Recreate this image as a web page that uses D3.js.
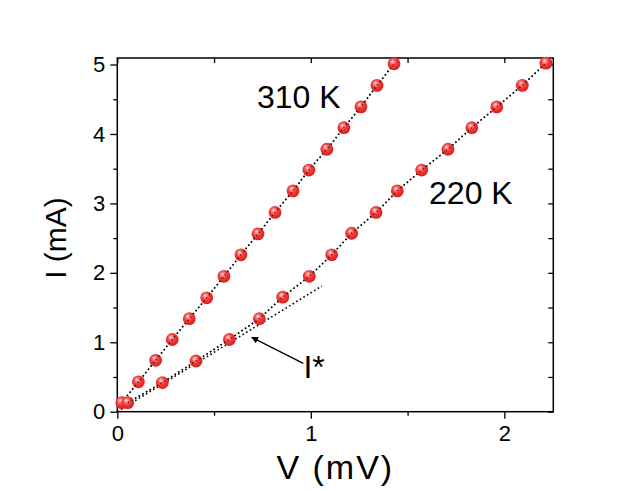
<!DOCTYPE html>
<html>
<head>
<meta charset="utf-8">
<script src="https://cdn.jsdelivr.net/npm/d3@7/dist/d3.min.js"></script>
<style>
  body { margin: 0; background: #fff; }
  svg { display: block; }
  text { font-family: "Liberation Sans", Arial, sans-serif; fill: #000; }
</style>
</head>
<body>
<div class="chart"></div>
<script>
// I-V data (V in mV, I in mA)
var v310 = [0.023, 0.109, 0.198, 0.284, 0.372, 0.462, 0.551, 0.639, 0.727, 0.815, 0.908, 0.990, 1.083, 1.171, 1.259, 1.342, 1.430];
var i310 = [0.13, 0.43, 0.74, 1.04, 1.34, 1.64, 1.95, 2.26, 2.56, 2.87, 3.18, 3.48, 3.78, 4.09, 4.39, 4.70, 5.01];
var v220 = [0.054, 0.233, 0.407, 0.579, 0.734, 0.855, 0.992, 1.108, 1.211, 1.337, 1.447, 1.573, 1.709, 1.832, 1.961, 2.093, 2.215];
var i220 = [0.13, 0.42, 0.73, 1.04, 1.34, 1.65, 1.95, 2.26, 2.57, 2.87, 3.18, 3.48, 3.78, 4.09, 4.39, 4.70, 5.02];
// low-current tangent used to mark I*
var tangentV = [0.0, 1.057];
var tangentI = [0.0, 1.81];
var xTicks = [0, 1, 2];
var xMinor = [0.5, 1.5];
var yTicks = [0, 1, 2, 3, 4, 5];
var yMinor = [0.5, 1.5, 2.5, 3.5, 4.5];

var width = 643, height = 491;
var plotL = 117.3, plotR = 553.3, plotT = 58, plotB = 411.7;

var svg = d3.select(".chart").append("svg")
  .attr("width", width)
  .attr("height", height);

var x = d3.scaleLinear().domain([0, 2.253]).range([plotL, plotR]);
var y = d3.scaleLinear().domain([0, 5.094]).range([plotB, plotT]);

var defs = svg.append("defs");
var grad = defs.append("radialGradient")
  .attr("id", "ball")
  .attr("cx", "0.45").attr("cy", "0.42").attr("r", "0.6")
  .attr("fx", "0.38").attr("fy", "0.32");
grad.append("stop").attr("offset", "0%").attr("stop-color", "#ffe6e6");
grad.append("stop").attr("offset", "22%").attr("stop-color", "#f98a8a");
grad.append("stop").attr("offset", "50%").attr("stop-color", "#f23b3b");
grad.append("stop").attr("offset", "100%").attr("stop-color", "#d81c1c");

defs.append("marker")
  .attr("id", "arrow")
  .attr("viewBox", "0 0 10 10")
  .attr("refX", 9).attr("refY", 5)
  .attr("markerWidth", 7).attr("markerHeight", 7)
  .attr("markerUnits", "userSpaceOnUse")
  .attr("orient", "auto")
  .append("path")
  .attr("d", "M0,0 L10,5 L0,10 Z")
  .attr("fill", "#000");

// axes: outer ticks on left/bottom, inner ticks on top/right
function styleAxis(g) {
  g.select(".domain").remove();
  g.attr("font-size", null).attr("font-family", null);
  g.selectAll("line").attr("stroke", "#000").attr("stroke-width", 1.3);
  g.selectAll("text").style("font-size", "22px").attr("fill", "#000");
}

svg.append("g").attr("transform", "translate(0," + plotB + ")")
  .call(d3.axisBottom(x).tickValues(xTicks).tickSize(7).tickPadding(7).tickFormat(d3.format("d")))
  .call(styleAxis);
svg.append("g").attr("transform", "translate(0," + plotB + ")")
  .call(d3.axisBottom(x).tickValues(xMinor).tickSize(4).tickFormat(""))
  .call(styleAxis);
svg.append("g").attr("transform", "translate(" + plotL + ",0)")
  .call(d3.axisLeft(y).tickValues(yTicks).tickSize(7).tickPadding(5).tickFormat(d3.format("d")))
  .call(styleAxis);
svg.append("g").attr("transform", "translate(" + plotL + ",0)")
  .call(d3.axisLeft(y).tickValues(yMinor).tickSize(4).tickFormat(""))
  .call(styleAxis);
svg.append("g").attr("transform", "translate(0," + plotT + ")")
  .call(d3.axisTop(x).tickValues(xTicks.concat(xMinor)).tickSize(-5).tickFormat(""))
  .call(styleAxis);
svg.append("g").attr("transform", "translate(" + plotR + ",0)")
  .call(d3.axisRight(y).tickValues(yTicks.concat(yMinor)).tickSize(-5).tickFormat(""))
  .call(styleAxis);

svg.append("rect")
  .attr("x", plotL).attr("y", plotT)
  .attr("width", plotR - plotL).attr("height", plotB - plotT)
  .attr("fill", "none").attr("stroke", "#000").attr("stroke-width", 1.5);

var line = d3.line()
  .x(function(d) { return x(d[0]); })
  .y(function(d) { return y(d[1]); });

function pairs(a, b) { return a.map(function(v, i) { return [v, b[i]]; }); }

var series = [pairs(v310, i310), pairs(v220, i220)];

// tangent line
svg.append("path")
  .datum(pairs(tangentV, tangentI))
  .attr("d", line)
  .attr("fill", "none").attr("stroke", "#000")
  .attr("stroke-width", 1.6).attr("stroke-dasharray", "1.6,2.6");

series.forEach(function(s) {
  svg.append("path")
    .datum(s)
    .attr("d", line)
    .attr("fill", "none").attr("stroke", "#000")
    .attr("stroke-width", 1.6).attr("stroke-dasharray", "1.6,2.6");

  svg.append("g").selectAll("circle")
    .data(s)
    .enter().append("circle")
    .attr("cx", function(d) { return x(d[0]); })
    .attr("cy", function(d) { return y(d[1]); })
    .attr("r", 6.4)
    .attr("fill", "url(#ball)");

  // the dotted line shows through the symbols
  svg.append("path")
    .datum(s)
    .attr("d", line)
    .attr("fill", "none").attr("stroke", "#000").attr("stroke-opacity", 0.7)
    .attr("stroke-width", 1.4).attr("stroke-dasharray", "1.4,2.8");
});

// labels
svg.append("text").attr("x", x(0.722)).attr("y", y(4.373))
  .style("font-size", "32px").text("310 K");
svg.append("text").attr("x", x(1.611)).attr("y", y(2.99))
  .style("font-size", "32px").text("220 K");
svg.append("text").attr("x", x(0.962)).attr("y", y(0.483))
  .style("font-size", "32px").text("I*");

svg.append("line")
  .attr("x1", x(0.961)).attr("y1", y(0.695))
  .attr("x2", x(0.695)).attr("y2", y(1.07))
  .attr("stroke", "#000").attr("stroke-width", 1.5)
  .attr("marker-end", "url(#arrow)");

svg.append("text")
  .attr("x", (plotL + plotR) / 2).attr("y", 479)
  .attr("text-anchor", "middle")
  .style("font-size", "34px").style("letter-spacing", "2px")
  .text("V (mV)");
svg.append("text")
  .attr("transform", "translate(66,238) rotate(-90)")
  .attr("text-anchor", "middle")
  .style("font-size", "30px")
  .text("I (mA)");
</script>
</body>
</html>
